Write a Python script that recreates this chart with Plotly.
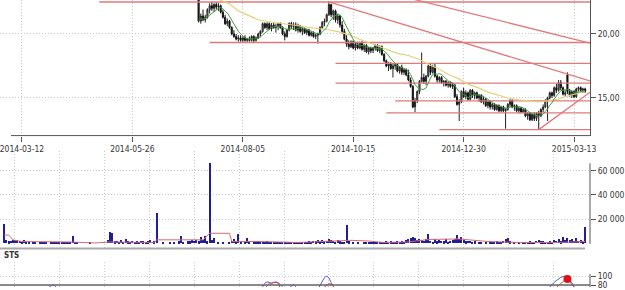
import plotly.graph_objects as go
import pandas as pd

# ------------------------------------------------------------------ data
N_SESSIONS = 264                      # trading sessions shown (index 0..263)
DATE_TICK_IDX = [8, 58, 108, 158, 208, 258]
DATE_TICK_TEXT = ["2014-03-12", "2014-05-26", "2014-08-05", "2014-10-15", "2014-12-30", "2015-03-13"]

CANDLE_START = 88                     # earlier candles lie above the visible price range
OHLC = [
    (22.8, 23.0, 20.9, 21.0), (21.0, 21.6, 20.8, 21.4), (21.4, 21.9, 21.0, 21.1), (21.1, 21.5, 20.9, 21.3),
    (21.3, 22.0, 21.2, 21.9), (21.9, 22.4, 21.6, 22.2), (22.2, 22.5, 21.8, 22.0), (22.0, 22.4, 21.7, 22.3),
    (22.3, 22.5, 21.9, 22.1), (22.1, 22.4, 21.8, 22.2), (22.2, 22.3, 21.6, 21.7), (21.7, 21.9, 21.2, 21.3),
    (21.3, 21.5, 20.7, 20.8), (20.8, 21.2, 20.6, 21.0), (21.0, 21.1, 20.4, 20.5), (20.5, 20.6, 19.9, 20.0),
    (20.0, 20.3, 19.7, 19.8), (19.8, 20.0, 19.5, 19.6), (19.6, 19.9, 19.4, 19.7), (19.7, 19.9, 19.4, 19.5),
    (19.5, 19.8, 19.35, 19.7), (19.7, 19.9, 19.4, 19.5), (19.5, 19.7, 19.35, 19.6), (19.6, 19.8, 19.4, 19.5),
    (19.5, 19.9, 19.4, 19.8), (19.8, 19.9, 19.35, 19.5), (19.5, 19.8, 19.4, 19.7), (19.7, 20.1, 19.6, 20.0),
    (20.0, 20.3, 19.8, 20.2), (20.2, 20.9, 20.1, 20.8), (20.8, 20.9, 20.4, 20.5), (20.5, 20.9, 20.3, 20.8),
    (20.8, 20.9, 20.3, 20.4), (20.4, 20.85, 20.2, 20.7), (20.7, 20.9, 20.4, 20.5), (20.5, 20.8, 20.1, 20.6),
    (20.6, 20.85, 20.3, 20.8), (20.8, 20.9, 20.4, 20.5), (20.5, 20.6, 19.9, 20.0), (20.0, 20.2, 19.5, 19.8),
    (19.8, 20.4, 19.7, 20.3), (20.3, 20.9, 20.2, 20.8), (20.8, 20.95, 20.4, 20.6), (20.6, 20.9, 20.3, 20.7),
    (20.7, 20.9, 20.2, 20.3), (20.3, 20.8, 20.1, 20.6), (20.6, 20.7, 20.1, 20.2), (20.2, 20.5, 19.9, 20.4),
    (20.4, 20.5, 20.0, 20.1), (20.1, 20.4, 19.9, 20.3), (20.3, 20.4, 19.8, 19.9), (19.9, 20.2, 19.8, 20.1),
    (20.1, 20.2, 19.7, 19.8), (19.8, 20.0, 19.6, 19.9), (19.9, 20.1, 19.25, 20.0), (20.0, 20.6, 19.9, 20.5),
    (20.5, 21.0, 20.4, 20.9), (20.9, 21.2, 20.6, 21.0), (21.0, 21.6, 20.9, 21.5), (21.5, 22.55, 21.4, 22.3),
    (22.3, 22.35, 21.3, 21.5), (21.5, 21.9, 21.1, 21.8), (21.8, 21.9, 20.9, 21.1), (21.1, 21.6, 20.8, 21.4),
    (21.4, 21.5, 20.5, 20.7), (20.7, 21.0, 20.0, 20.2), (20.2, 20.4, 19.5, 19.6), (19.6, 19.9, 19.0, 19.2),
    (19.2, 19.5, 18.8, 19.0), (19.0, 19.5, 18.9, 19.4), (19.4, 19.5, 18.8, 18.9), (18.9, 19.3, 18.7, 19.2),
    (19.2, 19.4, 18.8, 18.9), (18.9, 19.4, 18.8, 19.3), (19.3, 19.45, 18.7, 18.8), (18.8, 19.2, 18.6, 19.1),
    (19.1, 19.2, 18.5, 18.6), (18.6, 19.0, 18.4, 18.9), (18.9, 19.0, 18.5, 18.7), (18.7, 19.0, 18.5, 18.9),
    (18.9, 19.2, 18.7, 19.1), (19.1, 19.2, 18.6, 18.7), (18.7, 19.1, 18.5, 19.0), (19.0, 19.1, 18.3, 18.4),
    (18.4, 18.5, 17.8, 17.9), (17.9, 18.0, 17.4, 17.5), (17.5, 17.8, 17.1, 17.7), (17.7, 17.8, 17.2, 17.3),
    (17.3, 17.7, 16.6, 17.5), (17.5, 17.7, 17.2, 17.6), (17.6, 17.7, 17.0, 17.1), (17.1, 17.5, 16.9, 17.4),
    (17.4, 17.6, 16.8, 17.0), (17.0, 17.3, 16.8, 17.2), (17.2, 17.3, 16.7, 16.8), (16.8, 17.2, 16.3, 16.4),
    (16.4, 16.6, 15.8, 15.9), (15.9, 16.0, 14.2, 14.3), (14.3, 15.0, 13.9, 14.8), (14.8, 15.6, 14.6, 15.5),
    (15.5, 16.4, 15.3, 16.3), (16.3, 18.55, 16.2, 16.6), (16.6, 16.9, 16.1, 16.3), (16.3, 16.8, 16.0, 16.7),
    (16.7, 17.6, 16.6, 17.5), (17.5, 17.7, 16.8, 17.0), (17.0, 17.6, 16.9, 17.4), (17.4, 17.7, 16.6, 16.7),
    (16.7, 16.8, 16.2, 16.4), (16.4, 16.7, 16.2, 16.6), (16.6, 16.7, 16.1, 16.2), (16.2, 16.4, 15.9, 16.3),
    (16.3, 16.4, 15.9, 16.0), (16.0, 16.3, 15.8, 16.2), (16.2, 16.3, 15.8, 15.9), (15.9, 16.2, 15.7, 16.0),
    (16.0, 16.1, 15.0, 15.1), (15.1, 15.3, 14.4, 14.5), (14.5, 14.9, 13.2, 14.7), (14.7, 15.6, 14.6, 15.5),
    (15.5, 15.8, 15.0, 15.1), (15.1, 15.6, 14.9, 15.4), (15.4, 15.5, 14.8, 14.9), (14.9, 15.7, 14.8, 15.6),
    (15.6, 15.7, 15.0, 15.2), (15.2, 15.5, 14.9, 15.4), (15.4, 15.5, 14.9, 15.0), (15.0, 15.3, 14.7, 15.2),
    (15.2, 15.3, 14.6, 14.7), (14.7, 15.1, 14.5, 14.9), (14.9, 15.0, 14.3, 14.4), (14.4, 14.8, 14.2, 14.7),
    (14.7, 14.8, 14.1, 14.3), (14.3, 14.6, 14.1, 14.5), (14.5, 14.6, 14.0, 14.1), (14.1, 14.5, 14.0, 14.4),
    (14.4, 14.5, 13.9, 14.0), (14.0, 14.4, 13.9, 14.3), (14.3, 14.4, 13.9, 14.0), (14.0, 14.2, 12.6, 14.1),
    (14.1, 14.6, 14.0, 14.5), (14.5, 14.9, 14.3, 14.8), (14.8, 14.9, 14.2, 14.3), (14.3, 14.5, 14.0, 14.4),
    (14.4, 14.5, 13.9, 14.0), (14.0, 14.3, 13.8, 14.2), (14.2, 14.3, 13.8, 13.9), (13.9, 14.2, 13.8, 14.1),
    (14.1, 14.2, 13.5, 13.6), (13.6, 13.9, 13.3, 13.8), (13.8, 13.9, 13.2, 13.3), (13.3, 13.8, 13.2, 13.7),
    (13.7, 13.9, 13.2, 13.4), (13.4, 13.9, 13.2, 13.8), (13.8, 14.0, 12.53, 13.6), (13.6, 14.2, 13.5, 14.1),
    (14.1, 14.5, 13.9, 14.3), (14.3, 14.9, 14.2, 14.8), (14.8, 15.1, 13.2, 15.0), (15.0, 15.5, 14.9, 15.4),
    (15.4, 15.5, 15.0, 15.2), (15.2, 15.9, 15.1, 15.8), (15.8, 16.1, 15.4, 15.6), (15.6, 16.4, 15.5, 16.2),
    (16.2, 16.4, 15.6, 15.8), (15.8, 15.9, 15.2, 15.3), (15.3, 15.6, 15.1, 15.4), (16.8, 17.0, 15.3, 15.5),
    (15.5, 15.7, 15.1, 15.2), (15.2, 15.6, 15.0, 15.5), (15.5, 15.6, 15.0, 15.1), (15.1, 15.8, 15.0, 15.7),
    (15.7, 15.9, 15.5, 15.8), (15.8, 15.9, 15.5, 15.6), (15.6, 15.8, 15.4, 15.7), (15.7, 15.8, 15.4, 15.5),
]
OPEN = [r[0] for r in OHLC]
HIGH = [r[1] for r in OHLC]
LOW = [r[2] for r in OHLC]
CLOSE = [r[3] for r in OHLC]

# long moving average (yellow)
MA_LONG_IDX = [93, 98, 102, 106, 111, 115, 120, 124, 129, 133, 138, 142, 147, 151, 156, 160, 165, 169, 174,
               178, 183, 188, 192, 197, 201, 206, 210, 215, 219, 224, 228, 233, 237, 242, 246, 251, 255, 260, 263]
MA_LONG_VAL = [23.0, 22.65, 22.34, 21.80, 21.41, 21.11, 20.95, 20.87, 20.72, 20.64, 20.49, 20.41, 20.33, 20.18,
               19.95, 19.64, 19.33, 19.02, 18.71, 18.48, 18.32, 18.01, 17.63, 17.24, 16.85, 16.47, 16.08, 15.77,
               15.46, 15.23, 15.00, 14.85, 14.77, 14.69, 14.77, 14.92, 15.15, 15.39, 15.54]
MA_SHORT_WINDOW = 7

# support / resistance levels: (start session, price)
LEVELS = [(43, 22.50), (93, 19.33), (150, 17.70), (150, 16.16), (177, 14.77), (173, 13.84), (197, 12.53)]
# trend lines: ((session, price), (session, price))
TRENDS = [((147, 22.50), (265.2, 16.33)),
          ((150, 24.22), (265.2, 19.29)),
          ((242, 12.53), (265.2, 15.45))]

VOLUME = [
    15500, 2500, 1500, 2000, 2800, 2200, 2600, 1800, 900, 2100, 1200, 700, 0, 800, 600, 0, 900, 700, 500, 800,
    0, 1100, 600, 900, 700, 800, 1000, 600, 900, 1200, 800, 5500, 1000, 700, 0, 0, 0, 0, 0, 600,
    0, 0, 0, 0, 0, 0, 0, 2500, 9000, 8000, 1500, 1800, 1000, 2600, 1200, 3300, 1400, 1000, 1800, 900,
    1600, 1100, 2000, 1300, 1200, 1500, 2200, 0, 1400, 24500, 0, 0, 1000, 0, 0, 900, 0, 1200, 0, 1400,
    6000, 1200, 0, 1300, 1500, 2400, 1800, 2600, 1500, 5000, 2200, 5700, 1400, 66000, 2800, 4000, 0, 1000, 0, 800,
    0, 0, 1200, 1800, 3000, 1500, 7500, 1200, 0, 1000, 4000, 900, 0, 1400, 1100, 1500, 900, 1200, 800, 1300,
    700, 1000, 600, 900, 1100, 700, 1200, 900, 600, 1000, 800, 500, 900, 600, 800, 1000, 700, 900, 1500, 1100,
    1800, 1300, 2200, 1600, 2700, 1500, 2000, 3200, 2400, 1800, 1200, 2600, 1400, 1000, 900, 14700, 1500, 0, 800, 0,
    600, 0, 0, 1000, 800, 1200, 700, 900, 1100, 800, 1000, 900, 1200, 1400, 1000, 1300, 900, 1100, 1400, 1000,
    1600, 1200, 2800, 3500, 4500, 5000, 4200, 2500, 3000, 2200, 1800, 3400, 7300, 2000, 1200, 3000, 1500, 2400, 1800, 1600,
    3000, 1200, 2000, 2800, 3500, 7000, 3200, 5000, 2500, 1500, 2000, 1800, 1000, 1500, 0, 1200, 800, 0, 1000, 0,
    700, 1200, 600, 1400, 1000, 900, 2000, 3500, 4000, 1500, 0, 800, 0, 1000, 0, 700, 1200, 900, 1500, 1000,
    1200, 1800, 2200, 1300, 1600, 1100, 900, 1500, 1200, 2500, 1800, 3000, 1600, 5000, 2800, 4300, 2200, 3300, 1800, 3800,
    2000, 2600, 1500, 13000,
]
VOL_MA_IDX = [0, 2, 4, 8, 30, 41, 48, 57, 68, 69, 90, 93, 102, 103, 115, 133, 149, 155, 157, 165, 172, 183,
              188, 192, 206, 212, 219, 233, 251, 263]
VOL_MA_VAL = [6900, 6900, 2900, 1600, 1200, 400, 1200, 1200, 800, 3000, 3000, 8400, 8400, 1600, 1600, 800,
              2000, 2000, 2600, 2000, 800, 1200, 2400, 3300, 3700, 2900, 1600, 800, 800, 1600]

# stochastic oscillator, only the parts that rise into the visible strip
STS_K = {19: 70, 20: 74, 21: 79, 22: 81, 23: 78, 24: 73, 25: 68,
         116: 68, 117: 75, 118: 84, 119: 87, 120: 86, 121: 83, 122: 86, 123: 87, 124: 84, 125: 72, 126: 66,
         127: 66, 128: 70, 129: 74, 130: 79, 131: 81, 132: 76, 133: 70,
         142: 70, 143: 78, 144: 88, 145: 97, 146: 100, 147: 96, 148: 86, 149: 74, 150: 68,
         246: 70, 247: 76, 248: 81, 249: 86, 250: 90, 251: 94, 252: 97, 253: 99, 254: 100, 255: 99, 256: 93,
         257: 85, 258: 76, 259: 70}
STS_D = {117: 66, 118: 72, 119: 79, 120: 84, 121: 85, 122: 85, 123: 85, 124: 86, 125: 81, 126: 74, 127: 70,
         143: 68, 144: 72, 145: 77, 146: 81, 147: 83, 148: 82, 149: 78, 150: 72,
         249: 70, 250: 74, 251: 78, 252: 83, 253: 88, 254: 92, 255: 93.3, 256: 87, 257: 80, 258: 74, 259: 70}
STS_SIGNAL_IDX = 255
STS_SIGNAL_VAL = 93.3

# ------------------------------------------------------------------ helpers
W, H = 625, 290
PLOT_W = 592
FONT = dict(family="DejaVu Sans Condensed, Liberation Sans, DejaVu Sans", size=8.5, color="#333")


def py(px):
    return 1 - px / H


def segs(d):
    xs, ys, prev = [], [], None
    for k in sorted(d):
        if prev is not None and k != prev + 1:
            xs.append(None); ys.append(None)
        xs.append(k); ys.append(d[k])
        prev = k
    return xs, ys


idx = list(range(CANDLE_START, CANDLE_START + len(OHLC)))
ma_short = pd.Series(CLOSE).rolling(MA_SHORT_WINDOW, min_periods=1).mean().tolist()
px_per = 2.216
x0_idx = (0 - 4.27) / px_per
x1_idx = (PLOT_W - 4.27) / px_per
XR = [x0_idx, x1_idx]

RED = "#e07a7a"
fig = go.Figure()

# levels and trends (behind the candles)
for s, p in LEVELS:
    fig.add_trace(go.Scatter(x=[s, x1_idx], y=[p, p], mode="lines",
                             line=dict(color=RED, width=1.4), hoverinfo="skip", xaxis="x", yaxis="y"))
for (a, pa), (b, pb) in TRENDS:
    fig.add_trace(go.Scatter(x=[a, b], y=[pa, pb], mode="lines",
                             line=dict(color=RED, width=1.3), hoverinfo="skip", xaxis="x", yaxis="y"))

fig.add_trace(go.Candlestick(
    x=idx, open=OPEN, high=HIGH, low=LOW, close=CLOSE, xaxis="x", yaxis="y",
    increasing=dict(line=dict(color="#222", width=1), fillcolor="#9a9a9a"),
    decreasing=dict(line=dict(color="#111", width=1), fillcolor="#111"),
    whiskerwidth=0, hoverinfo="skip"))

fig.add_trace(go.Scatter(x=MA_LONG_IDX, y=MA_LONG_VAL, mode="lines", line=dict(color="#e5d07a", width=1.2),
                         xaxis="x", yaxis="y", hoverinfo="skip"))
fig.add_trace(go.Scatter(x=idx, y=ma_short, mode="lines", line=dict(color="#3f9d3f", width=1),
                         xaxis="x", yaxis="y", hoverinfo="skip"))

# volume
fig.add_trace(go.Bar(x=list(range(len(VOLUME))), y=VOLUME, width=0.5, marker=dict(color="#1f1f9a", line=dict(width=0)),
                     xaxis="x2", yaxis="y2", hoverinfo="skip"))
fig.add_trace(go.Scatter(x=VOL_MA_IDX, y=VOL_MA_VAL, mode="lines", line=dict(color="#d86a6a", width=1),
                         xaxis="x2", yaxis="y2", hoverinfo="skip"))

# stochastic
kx, ky = segs(STS_K)
dx, dy = segs(STS_D)
fig.add_trace(go.Scatter(x=kx, y=ky, mode="lines", line=dict(color="#5a5ac8", width=1), xaxis="x3", yaxis="y3",
                         hoverinfo="skip"))
fig.add_trace(go.Scatter(x=dx, y=dy, mode="lines", line=dict(color="#d04848", width=1), xaxis="x3", yaxis="y3",
                         hoverinfo="skip"))
fig.add_trace(go.Scatter(x=[STS_SIGNAL_IDX], y=[STS_SIGNAL_VAL], mode="markers",
                         marker=dict(color="#e01010", size=8), xaxis="x3", yaxis="y3", hoverinfo="skip"))

GRID = dict(showgrid=True, gridcolor="#c8c8c8", griddash="1px,2px", gridwidth=1)
low_grid = [(15 + 45 * k - 4.27) / px_per for k in range(13)]
YTICK = dict(ticks="outside", ticklen=5, tickcolor="#555", ticklabeloverflow="allow", zeroline=False,
             tickfont=FONT, side="right", tickmode="array")

fig.update_layout(
    width=W, height=H, margin=dict(l=0, r=W - PLOT_W, t=0, b=0),
    paper_bgcolor="white", plot_bgcolor="white", showlegend=False, font=FONT,
    xaxis=dict(domain=[0, 1], range=XR, anchor="y", tickmode="array", tickvals=DATE_TICK_IDX,
               ticktext=DATE_TICK_TEXT, ticks="outside", ticklen=5, tickcolor="#555", zeroline=False,
               showline=False, rangeslider=dict(visible=False), tickfont=FONT, ticklabeloverflow="allow", **GRID),
    yaxis=dict(domain=[py(137), 1], range=[12.063, 22.651],
               tickvals=[15, 20, 25], ticktext=["15,00", "20,00", "25,00"],
               showline=True, linecolor="#555", **YTICK, **GRID),
    xaxis2=dict(domain=[0, 1], range=XR, anchor="y2", tickmode="array", tickvals=low_grid, showticklabels=False,
                ticks="", zeroline=False, showline=False, **GRID),
    yaxis2=dict(domain=[py(251), py(153)], range=[-4082, 75918],
                tickvals=[20000, 40000, 60000], ticktext=["20 000", "40 000", "60 000"],
                showline=False, **YTICK, **GRID),
    xaxis3=dict(domain=[0, 1], range=XR, anchor="y3", tickmode="array", tickvals=low_grid, showticklabels=False,
                ticks="", zeroline=False, showline=False, **GRID),
    yaxis3=dict(domain=[0, py(265)], range=[75.56, 131.1],
                tickvals=[80, 100], ticktext=["80", "100"], showline=False, **YTICK, **GRID),
    bargap=0,
)

shapes = [
    dict(type="line", xref="paper", yref="paper", x0=11 / PLOT_W, x1=1, y0=py(137), y1=py(137),
         line=dict(color="#555", width=1)),
    dict(type="line", xref="paper", yref="paper", x0=1, x1=1, y0=py(165), y1=py(246.5),
         line=dict(color="#555", width=1)),
    dict(type="line", xref="paper", yref="paper", x0=0, x1=587 / PLOT_W, y0=py(251), y1=py(251),
         line=dict(color="#a8a8a8", width=2)),
    dict(type="line", xref="paper", yref="paper", x0=1, x1=1, y0=py(277), y1=0,
         line=dict(color="#555", width=1)),
    dict(type="line", xref="paper", yref="y3", x0=0, x1=1, y0=80, y1=80,
         line=dict(color="#666", width=1.5)),
]
fig.update_layout(shapes=shapes)
fig.add_annotation(xref="paper", yref="paper", x=0.004, y=py(258), xanchor="left", yanchor="middle",
                   text="<b>STS</b>", showarrow=False, font=dict(family=FONT["family"], size=8, color="#333"))

fig.write_html("out.html")
